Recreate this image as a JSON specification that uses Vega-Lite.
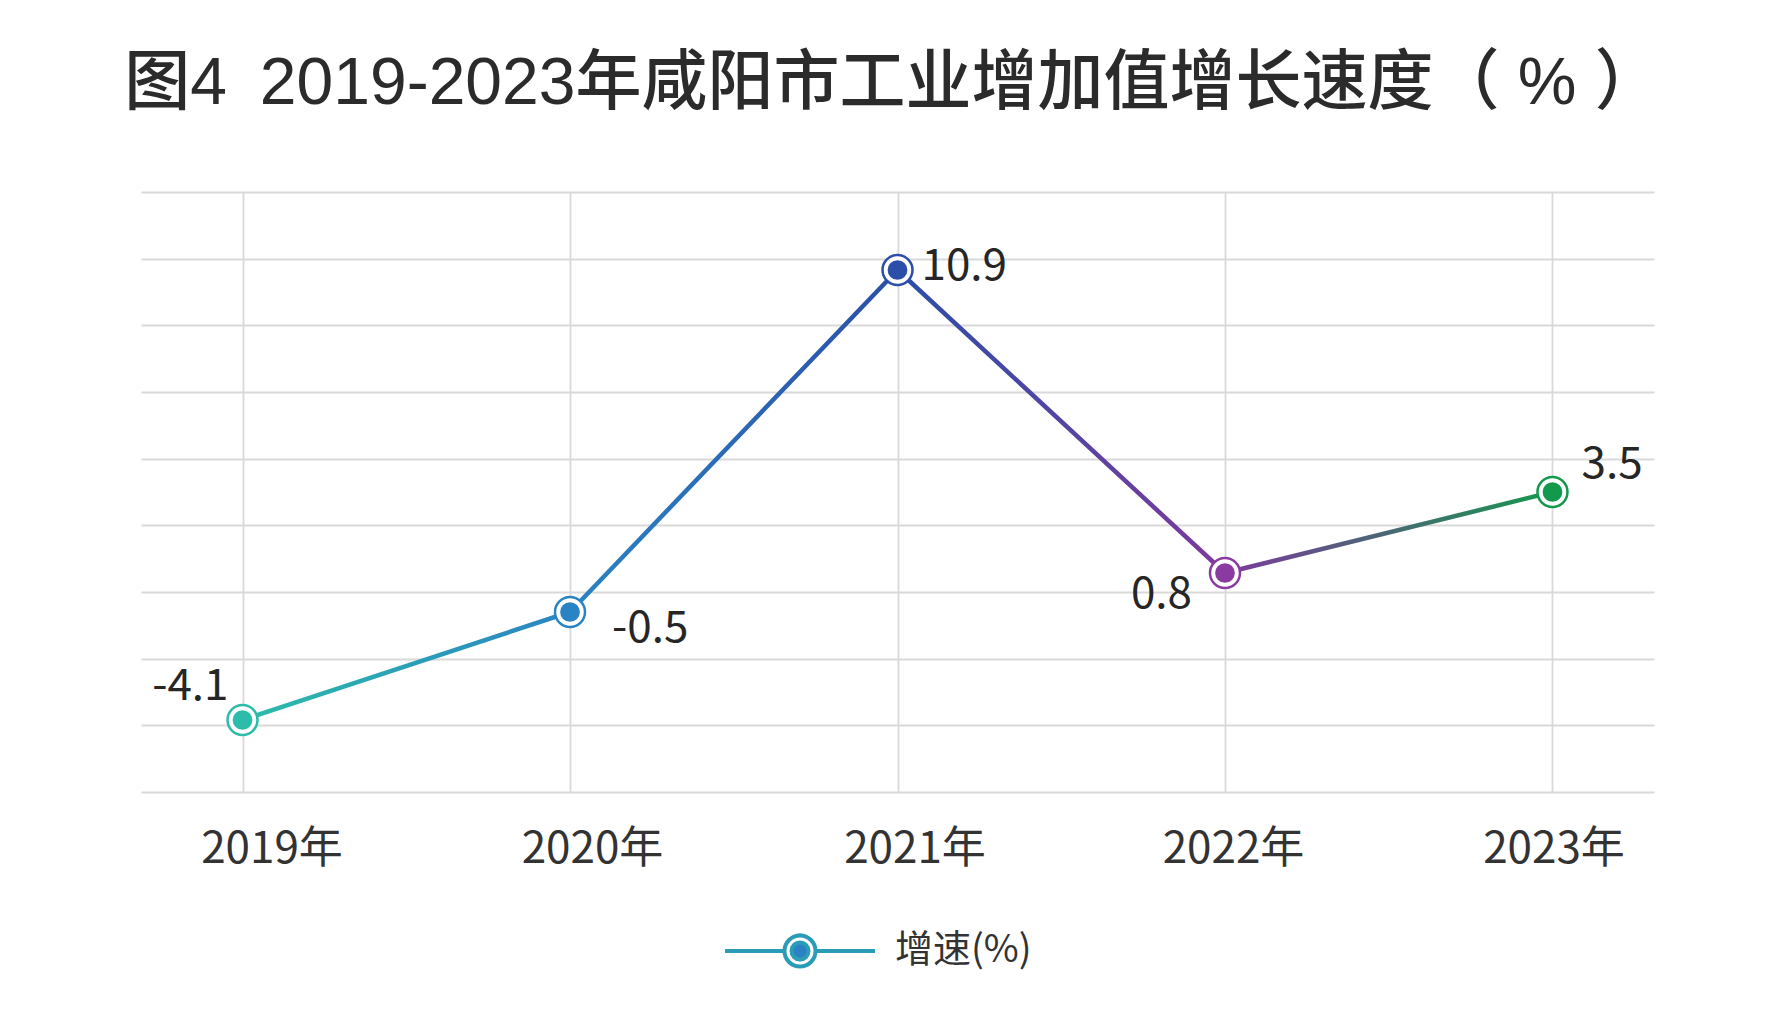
{
  "$schema": "https://vega.github.io/schema/vega-lite/v6.json",
  "width": 1513,
  "height": 600,
  "autosize": "none",
  "padding": {"left": 141, "top": 192, "right": 119, "bottom": 239},
  "background": "white",
  "title": {
    "text": "图4\u20022019-2023年咸阳市工业增加值增长速度（ % ）",
    "font": "Liberation Sans, Noto Sans CJK SC",
    "fontSize": 66,
    "fontWeight": 500,
    "color": "#2b2b2b",
    "anchor": "middle",
    "frame": "group",
    "dx": -5,
    "offset": 74
  },
  "data": {
    "values": [
      {"year": "2019年", "value": -4.1},
      {"year": "2020年", "value": -0.5},
      {"year": "2021年", "value": 10.9},
      {"year": "2022年", "value": 0.8},
      {"year": "2023年", "value": 3.5}
    ]
  },
  "encoding": {
    "x": {
      "field": "year",
      "type": "ordinal",
      "scale": {"type": "point", "padding": 0.31},
      "axis": {
        "title": null,
        "grid": true,
        "gridColor": "#d9d9d9",
        "gridWidth": 1.8,
        "domain": false,
        "ticks": false,
        "tickSize": 0,
        "labelAngle": 0,
        "labelFont": "Noto Sans CJK SC",
        "labelFontSize": 44,
        "labelColor": "#333333",
        "labelBaseline": "middle",
        "labelPadding": 57,
        "labelOffset": {
          "condition": [
            {"test": "datum.value === '2019年'", "value": 29},
            {"test": "datum.value === '2020年'", "value": 22},
            {"test": "datum.value === '2021年'", "value": 17},
            {"test": "datum.value === '2022年'", "value": 8}
          ],
          "value": 1
        }
      }
    },
    "y": {
      "field": "value",
      "type": "quantitative",
      "scale": {"domain": [-6.5, 13.5], "nice": false, "zero": false},
      "axis": {
        "title": null,
        "labels": false,
        "ticks": false,
        "domain": false,
        "grid": true,
        "gridColor": "#d9d9d9",
        "gridWidth": 1.8,
        "values": [-6.5, -4.2778, -2.0556, 0.1667, 2.3889, 4.6111, 6.8333, 9.0556, 11.2778, 13.5]
      }
    }
  },
  "layer": [
    {
      "transform": [{"filter": {"field": "year", "oneOf": ["2019年", "2020年"]}}],
      "mark": {
        "type": "line",
        "strokeWidth": 4.5,
        "stroke": {"gradient": "linear", "x1": 0, "y1": 0, "x2": 1, "y2": 0,
          "stops": [{"offset": 0, "color": "#2cbcaa"}, {"offset": 1, "color": "#2a84c3"}]}
      }
    },
    {
      "transform": [{"filter": {"field": "year", "oneOf": ["2020年", "2021年"]}}],
      "mark": {
        "type": "line",
        "strokeWidth": 4.5,
        "stroke": {"gradient": "linear", "x1": 0, "y1": 0, "x2": 1, "y2": 0,
          "stops": [{"offset": 0, "color": "#2a84c3"}, {"offset": 1, "color": "#2b4ea8"}]}
      }
    },
    {
      "transform": [{"filter": {"field": "year", "oneOf": ["2021年", "2022年"]}}],
      "mark": {
        "type": "line",
        "strokeWidth": 4.5,
        "stroke": {"gradient": "linear", "x1": 0, "y1": 0, "x2": 1, "y2": 0,
          "stops": [{"offset": 0, "color": "#2b4ea8"}, {"offset": 1, "color": "#7d3a9c"}]}
      }
    },
    {
      "transform": [{"filter": {"field": "year", "oneOf": ["2022年", "2023年"]}}],
      "mark": {
        "type": "line",
        "strokeWidth": 4.5,
        "stroke": {"gradient": "linear", "x1": 0, "y1": 0, "x2": 1, "y2": 0,
          "stops": [{"offset": 0, "color": "#7d3a9c"}, {"offset": 1, "color": "#13994c"}]}
      }
    },
    {
      "mark": {"type": "point", "filled": true, "fill": "white", "size": 900, "strokeWidth": 2.5, "opacity": 1},
      "encoding": {
        "stroke": {
          "field": "year",
          "type": "nominal",
          "scale": {
            "domain": ["2019年", "2020年", "2021年", "2022年", "2023年"],
            "range": ["#2cbcaa", "#2a84c3", "#2b4ea8", "#8a3aa0", "#12994c"]
          },
          "legend": null
        }
      }
    },
    {
      "mark": {"type": "point", "filled": true, "size": 390},
      "encoding": {
        "fill": {
          "field": "year",
          "type": "nominal",
          "scale": {
            "domain": ["2019年", "2020年", "2021年", "2022年", "2023年"],
            "range": ["#2cbcaa", "#2a84c3", "#2b4ea8", "#8a3aa0", "#12994c"]
          },
          "legend": null
        },
        "opacity": {
          "datum": "增速(%)",
          "type": "nominal",
          "scale": {"range": [1]},
          "legend": {
            "title": null,
            "orient": "none",
            "legendX": 582,
            "legendY": 682,
            "padding": 0,
            "symbolType": "M-1,0H-0.207M0.207,0H1M0.207,0A0.207,0.207,0,1,1,-0.207,0A0.207,0.207,0,1,1,0.207,0ZM0.207,0A0.207,0.207,0,1,0,-0.207,0A0.207,0.207,0,1,0,0.207,0ZM0.113,0A0.113,0.113,0,1,1,-0.113,0A0.113,0.113,0,1,1,0.113,0Z",
            "symbolSize": 22500,
            "symbolFillColor": "#2a82c4",
            "symbolStrokeColor": "#2a9cb8",
            "symbolStrokeWidth": 4,
            "labelFont": "Noto Sans CJK SC",
            "labelFontSize": 38,
            "labelColor": "#333333",
            "labelOffset": 18,
            "encode": {
              "symbols": {
                "update": {
                  "shape": {"value": "M-1,0H-0.207M0.207,0H1M0.207,0A0.207,0.207,0,1,1,-0.207,0A0.207,0.207,0,1,1,0.207,0ZM0.207,0A0.207,0.207,0,1,0,-0.207,0A0.207,0.207,0,1,0,0.207,0ZM0.113,0A0.113,0.113,0,1,1,-0.113,0A0.113,0.113,0,1,1,0.113,0Z"},
                  "fill": {"value": "#2a82c4"},
                  "stroke": {"value": "#2a9cb8"},
                  "strokeWidth": {"value": 4}
                }
              }
            }
          }
        }
      }
    },
    {
      "transform": [{"filter": "datum.year === '2019年'"}],
      "mark": {"type": "text", "align": "right", "baseline": "middle", "dx": -14, "dy": -33, "font": "Noto Sans CJK SC", "fontSize": 44, "color": "#262626"},
      "encoding": {"text": {"field": "value", "type": "nominal"}}
    },
    {
      "transform": [{"filter": "datum.year === '2020年'"}],
      "mark": {"type": "text", "align": "left", "baseline": "middle", "dx": 42, "dy": 17, "font": "Noto Sans CJK SC", "fontSize": 44, "color": "#262626"},
      "encoding": {"text": {"field": "value", "type": "nominal"}}
    },
    {
      "transform": [{"filter": "datum.year === '2021年'"}],
      "mark": {"type": "text", "align": "left", "baseline": "middle", "dx": 24, "dy": -3, "font": "Noto Sans CJK SC", "fontSize": 44, "color": "#262626"},
      "encoding": {"text": {"field": "value", "type": "nominal"}}
    },
    {
      "transform": [{"filter": "datum.year === '2022年'"}],
      "mark": {"type": "text", "align": "right", "baseline": "middle", "dx": -33, "dy": 22, "font": "Noto Sans CJK SC", "fontSize": 44, "color": "#262626"},
      "encoding": {"text": {"field": "value", "type": "nominal"}}
    },
    {
      "transform": [{"filter": "datum.year === '2023年'"}],
      "mark": {"type": "text", "align": "left", "baseline": "middle", "dx": 29, "dy": -27, "font": "Noto Sans CJK SC", "fontSize": 44, "color": "#262626"},
      "encoding": {"text": {"field": "value", "type": "nominal"}}
    }
  ],
  "config": {
    "view": {"stroke": null}
  }
}
